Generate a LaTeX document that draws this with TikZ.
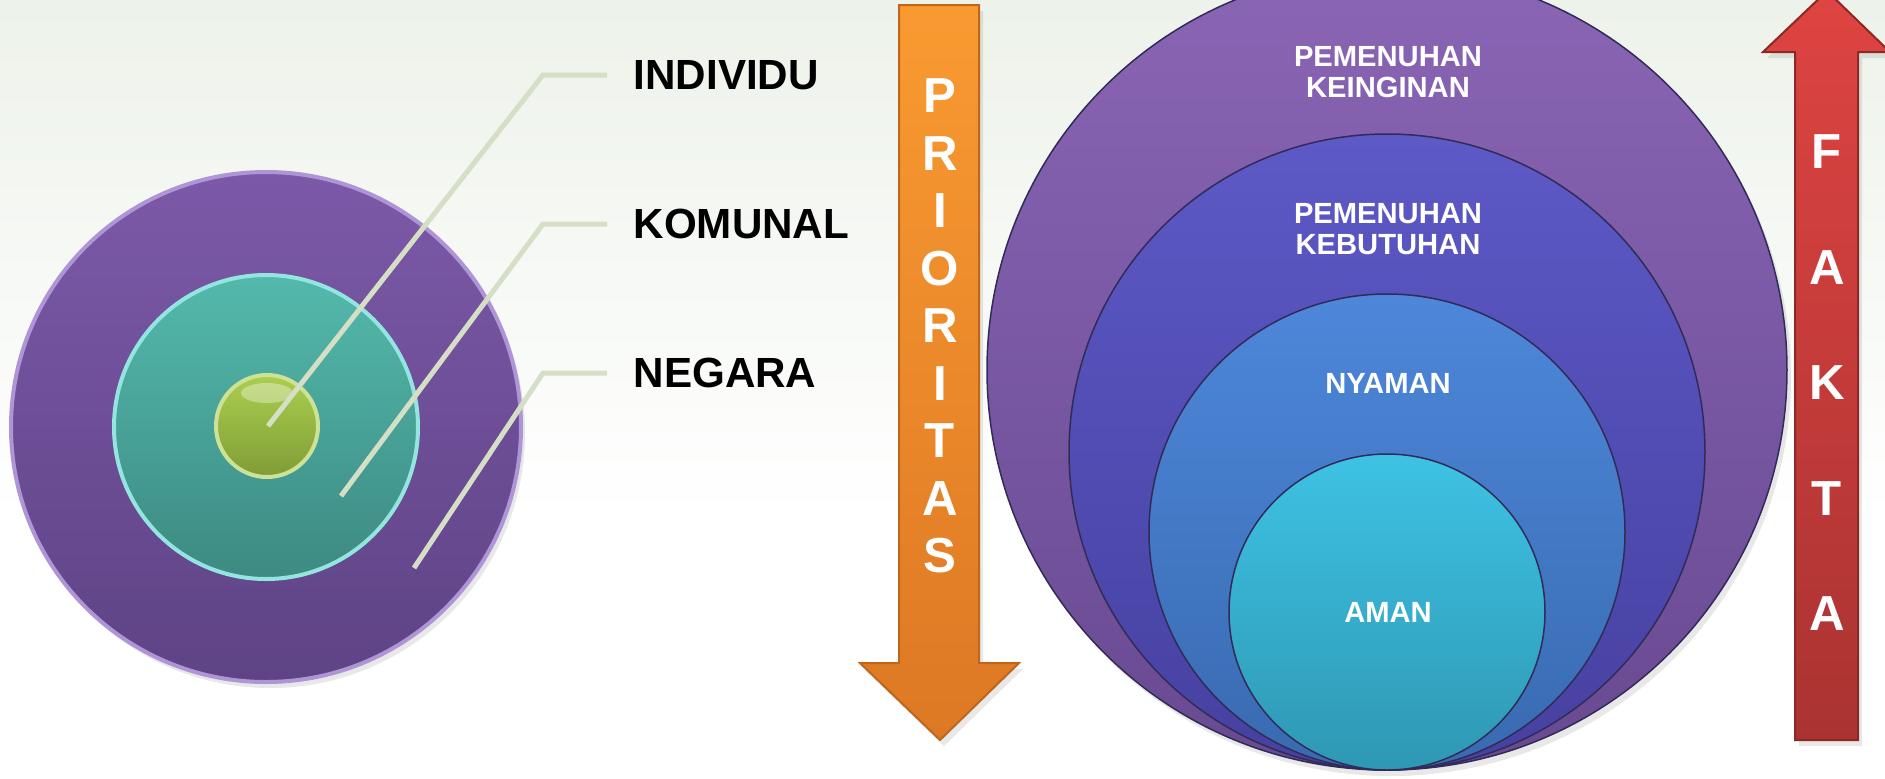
\documentclass[tikz,border=0pt]{standalone}
\usepackage{fontspec}
\setmainfont{Liberation Sans}
\usetikzlibrary{shadows}

\definecolor{bgtint}{HTML}{EDF2EA}
\definecolor{leadercol}{HTML}{D5DFC6}
\definecolor{negaratop}{HTML}{7C59A8}
\definecolor{negarabot}{HTML}{5E4385}
\definecolor{negararim}{HTML}{AE95D6}
\definecolor{komunaltop}{HTML}{53B9AC}
\definecolor{komunalbot}{HTML}{3D8A82}
\definecolor{komunalrim}{HTML}{94E4E0}
\definecolor{individutop}{HTML}{ABCF4F}
\definecolor{individubot}{HTML}{809C36}
\definecolor{orangetop}{HTML}{F99A31}
\definecolor{orangebot}{HTML}{DD7824}
\definecolor{orangeedge}{HTML}{C0661B}
\definecolor{redtop}{HTML}{DE4442}
\definecolor{redbot}{HTML}{AA3331}
\definecolor{rededge}{HTML}{8C2927}
\definecolor{ringedge}{HTML}{312B58}
\definecolor{keingtop}{HTML}{8A65B5}
\definecolor{keingbot}{HTML}{684A91}
\definecolor{kebuttop}{HTML}{5D59C6}
\definecolor{kebutbot}{HTML}{4640A0}
\definecolor{nyamantop}{HTML}{4E87DA}
\definecolor{nyamanbot}{HTML}{386AB0}
\definecolor{amantop}{HTML}{3EC2E4}
\definecolor{amanbot}{HTML}{2E98B3}

\begin{document}
\begin{tikzpicture}[x=0.1mm, y=-0.1mm,
        leader/.style={draw=leadercol, line width=0.5mm},
        tag/.style={anchor=west, inner xsep=2.6mm, inner ysep=0pt, font=\fontsize{12}{14}\selectfont\bfseries},
        arrowletter/.style={inner sep=0pt, text=white, font=\fontsize{14}{16}\selectfont\bfseries},
        disc/.style={circle, inner sep=0pt, line width=0.4mm},
        ring/.style={circle, inner sep=0pt, draw=ringedge, line width=0.15mm},
        ringtext/.style={inner sep=0pt, align=center, text=white, font=\fontsize{8.3}{8.6}\selectfont\bfseries},
        softshadow/.style={drop shadow={shadow xshift=0.4mm, shadow yshift=-0.6mm, opacity=0.18}}]
            \useasboundingbox (0,0) rectangle (1885,778);
            \clip (0,0) rectangle (1885,778);

            % backdrop
            \fill[white] (0,0) rectangle (1885,778);
            \shade[top color=bgtint, bottom color=white] (0,0) rectangle (1885,520);

            % left: three nested discs
            \node[disc, minimum size=51mm, draw=negararim, top color=negaratop, bottom color=negarabot, softshadow] (negara) at (266,427) {};
            \node[disc, minimum size=30.4mm, draw=komunalrim, top color=komunaltop, bottom color=komunalbot] (komunal) at (266,427) {};
            \node[disc, minimum size=10.2mm, draw=individutop!60!white, top color=individutop, bottom color=individubot] (individu) at (267,426) {};
            \fill[white, opacity=0.35] (267,393) ellipse[x radius=26, y radius=10];

            \coordinate (pin-individu) at (268,426);
            \coordinate (pin-komunal) at (341,496);
            \coordinate (pin-negara) at (414,568);

            \node[tag] (tag-individu) at (607,75) {INDIVIDU};
            \node[tag] (tag-komunal) at (607,224) {KOMUNAL};
            \node[tag] (tag-negara) at (607,373) {NEGARA};

            \draw[leader] (pin-individu) -- ([xshift=-6.4mm]tag-individu.west) -- (tag-individu.west);
            \draw[leader] (pin-komunal) -- ([xshift=-6.4mm]tag-komunal.west) -- (tag-komunal.west);
            \draw[leader] (pin-negara) -- ([xshift=-6.4mm]tag-negara.west) -- (tag-negara.west);

            % down arrow
            \shadedraw[draw=orangeedge, line width=0.2mm, top color=orangetop, bottom color=orangebot, softshadow]
                (899,5) -- (979,5) -- (979,663) -- (1019,663) -- (940,740) -- (860,663) -- (899,663) -- cycle;
            \foreach \ch [count=\i from 0] in {P,R,I,O,R,I,T,A,S}
                \node[arrowletter] (prio-\i) at (940,{96+57.5*\i}) {\ch};

            % right: nested circles sharing the bottom point
            \node[ring, minimum size=80mm, top color=keingtop, bottom color=keingbot, softshadow] (keinginan) at (1387,370) {};
            \node[ring, minimum size=63.6mm, top color=kebuttop, bottom color=kebutbot] (kebutuhan) at (1387,452) {};
            \node[ring, minimum size=47.6mm, top color=nyamantop, bottom color=nyamanbot] (nyaman) at (1387,532) {};
            \node[ring, minimum size=31.6mm, top color=amantop, bottom color=amanbot] (aman) at (1387,612) {};

            \node[ringtext] (keinginan-text) at (1388,72) {PEMENUHAN\\KEINGINAN};
            \node[ringtext] (kebutuhan-text) at (1388,229) {PEMENUHAN\\KEBUTUHAN};
            \node[ringtext] (nyaman-text) at (1388,383) {NYAMAN};
            \node[ringtext] (aman-text) at (1388,612) {AMAN};

            % up arrow
            \shadedraw[draw=rededge, line width=0.2mm, top color=redtop, bottom color=redbot, softshadow]
                (1795,740) -- (1858,740) -- (1858,52) -- (1890,52) -- (1827,-9) -- (1763,52) -- (1795,52) -- cycle;
            \foreach \ch [count=\i from 0] in {F,A,K,T,A}
                \node[arrowletter] (fakta-\i) at (1827,{152+115.5*\i}) {\ch};
        \end{tikzpicture}
\end{document}
